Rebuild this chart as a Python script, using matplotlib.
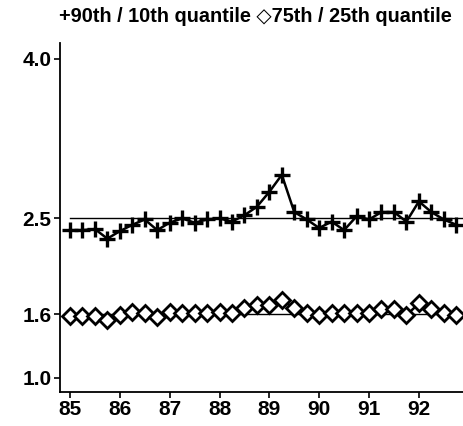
import numpy as np
import matplotlib.pyplot as plt

plt.rcParams['font.family'] = ['Liberation Sans', 'DejaVu Sans']

# quarterly observations, 1985Q1 .. 1992Q4
years = np.arange(85, 93, 0.25)

# ratio of 90th to 10th quantile
q90_10 = [2.39, 2.39, 2.40, 2.31, 2.38, 2.44, 2.49, 2.39,
          2.46, 2.50, 2.46, 2.49, 2.50, 2.47, 2.53, 2.61,
          2.75, 2.91, 2.56, 2.49, 2.41, 2.47, 2.39, 2.52,
          2.49, 2.56, 2.56, 2.47, 2.66, 2.56, 2.49, 2.44]

# ratio of 75th to 25th quantile
q75_25 = [1.58, 1.58, 1.58, 1.54, 1.59, 1.62, 1.61, 1.57,
          1.62, 1.61, 1.61, 1.61, 1.62, 1.61, 1.66, 1.69,
          1.69, 1.73, 1.66, 1.61, 1.59, 1.61, 1.61, 1.61,
          1.61, 1.65, 1.65, 1.59, 1.70, 1.65, 1.61, 1.59]

ref_levels = [2.5, 1.6]
xticks = [85, 86, 87, 88, 89, 90, 91, 92]
yticks = [1.0, 1.6, 2.5, 4.0]

fig = plt.figure(figsize=(4.64, 4.26), dpi=100)
ax = fig.add_axes([0.1293, 0.080, 0.868, 0.819])

for lvl in ref_levels:
    ax.plot([years[0], 93.0], [lvl, lvl], color='black', lw=1.0, zorder=1)

ax.plot(years, q90_10, color='black', lw=1.8, marker='+',
        markersize=12, mew=2.4, zorder=3)
ax.plot(years, q75_25, color='black', lw=1.8, marker='D',
        markersize=8.3, mew=2.0, mfc='white', mec='black', zorder=3)

ax.set_xlim(84.8, 92.88)
ax.set_ylim(0.868, 4.15)
ax.set_xticks(xticks)
ax.set_xticklabels([str(x) for x in xticks])
ax.set_yticks(yticks)
ax.set_yticklabels([f'{y:.1f}' for y in yticks])

for side in ['top', 'right']:
    ax.spines[side].set_visible(False)
for side in ['left', 'bottom']:
    ax.spines[side].set_linewidth(1.3)

ax.tick_params(axis='both', direction='out', length=4, width=1.2,
               labelsize=15, pad=2)
for lab in ax.get_xticklabels() + ax.get_yticklabels():
    lab.set_fontweight('bold')

fig.text(0.55, 0.962, '+90th / 10th quantile \u25c775th / 25th quantile',
         ha='center', va='center', fontsize=14.3, fontweight='bold')

fig.savefig('out.png', dpi=100)
